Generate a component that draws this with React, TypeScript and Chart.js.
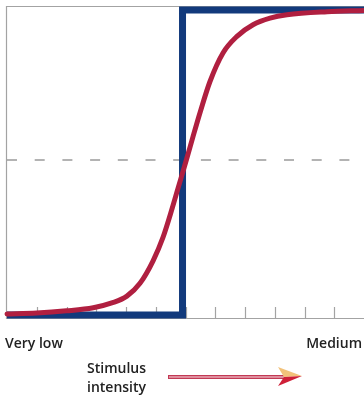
import React, { useEffect, useRef } from "react";
import { Chart, registerables } from "chart.js";

Chart.register(...registerables);

// Stimulus intensity (x, 0..12) vs response (y, 0..100)
const sigmoidX = [0, 1, 2, 2.9, 3.55, 4.03, 4.47, 4.91, 5.24, 5.55, 5.75, 5.93, 6.05, 6.25, 6.49, 6.82, 7.26, 7.73, 8.27, 8.84, 9.41, 10.76, 12];
const sigmoidY = [1.6, 1.9, 2.6, 3.6, 5.2, 7.3, 11.4, 18.6, 26.0, 35.3, 41.8, 47.6, 51.5, 58.2, 66.0, 75.8, 85, 90.3, 94.0, 96.1, 97.2, 98.2, 98.6];
const stepX = [0, 5.9, 5.9, 12];
const stepY = [1.3, 1.3, 98.7, 98.7];
const thresholdX = [0, 12];
const thresholdY = [50.8, 50.8];
const tickValues = [1, 2, 3, 4, 5, 6, 7, 8, 9, 10, 11];
const lowLabel = "Very low";
const highLabel = "Medium";
const axisTitle = ["Stimulus", "intensity"];

const FONT = "600 14px 'Open Sans', sans-serif";

const decorPlugin = {
  id: "decor",
  beforeDatasetsDraw(chart: any) {
    const { ctx, chartArea } = chart;
    const xs = chart.scales.x;
    const { left, top, right, bottom } = chartArea;
    ctx.save();
    ctx.strokeStyle = "#a3a3a3";
    ctx.lineWidth = 1.2;
    ctx.beginPath();
    ctx.moveTo(left - 0.5, bottom);
    ctx.lineTo(left - 0.5, top + 0.5);
    ctx.lineTo(right, top + 0.5);
    ctx.stroke();
    ctx.beginPath();
    ctx.moveTo(left - 1, bottom - 0.5);
    ctx.lineTo(right, bottom - 0.5);
    ctx.stroke();
    ctx.beginPath();
    for (const v of tickValues) {
      const px = Math.round(xs.getPixelForValue(v)) + 0.5;
      ctx.moveTo(px, bottom);
      ctx.lineTo(px, bottom - 12);
    }
    ctx.stroke();
    ctx.restore();
  },
  afterDraw(chart: any) {
    const { ctx, chartArea } = chart;
    const { left, right, bottom } = chartArea;
    ctx.save();
    ctx.fillStyle = "#222222";
    ctx.font = FONT;
    ctx.textBaseline = "alphabetic";
    ctx.textAlign = "left";
    ctx.fillText(lowLabel, left - 2, bottom + 29);
    ctx.textAlign = "right";
    ctx.fillText(highLabel, right - 2, bottom + 29);
    ctx.textAlign = "left";
    ctx.fillText(axisTitle[0], 87, bottom + 54);
    ctx.fillText(axisTitle[1], 87, bottom + 73);

    // arrow
    const y = bottom + 58;
    const x0 = 168;
    const x1 = 284;
    const tip = 302;
    ctx.fillStyle = "#c23a55";
    ctx.fillRect(x0, y - 2, x1 - x0, 4);
    ctx.fillStyle = "#e7a3b0";
    ctx.fillRect(x0 + 1, y - 0.8, x1 - x0 - 1, 1.6);
    ctx.fillStyle = "#f2c27a";
    ctx.beginPath();
    ctx.moveTo(278, y - 10);
    ctx.lineTo(tip, y - 1);
    ctx.lineTo(284, y);
    ctx.closePath();
    ctx.fill();
    ctx.fillStyle = "#cf2038";
    ctx.beginPath();
    ctx.moveTo(278, y + 9);
    ctx.lineTo(tip, y - 1);
    ctx.lineTo(284, y);
    ctx.closePath();
    ctx.fill();
    ctx.restore();
  },
};

export default function App() {
  const ref = useRef<HTMLCanvasElement | null>(null);
  useEffect(() => {
    if (!ref.current) return;
    const toPts = (xs: number[], ys: number[]) => xs.map((x, i) => ({ x, y: ys[i] }));
    const chart = new Chart(ref.current, {
      type: "scatter",
      data: {
        datasets: [
          {
            data: toPts(sigmoidX, sigmoidY),
            showLine: true,
            borderColor: "#b01f40",
            borderWidth: 5,
            pointRadius: 0,
            cubicInterpolationMode: "monotone",
            borderCapStyle: "round",
            clip: false,
            order: 0,
          },
          {
            data: toPts(stepX, stepY),
            showLine: true,
            borderColor: "#123a7c",
            borderWidth: 7,
            pointRadius: 0,
            tension: 0,
            borderJoinStyle: "miter",
            clip: false,
            order: 1,
          },
          {
            data: toPts(thresholdX, thresholdY),
            showLine: true,
            borderColor: "#9a9a9a",
            borderWidth: 1.3,
            borderDash: [10, 17.7],
            pointRadius: 0,
            clip: false,
            order: 2,
          },
        ],
      } as any,
      options: {
        animation: false,
        responsive: false,
        maintainAspectRatio: false,
        layout: { padding: { left: 7, top: 6, right: 0, bottom: 80 } },
        plugins: { legend: { display: false }, tooltip: { enabled: false } },
        scales: {
          x: { type: "linear", min: 0, max: 12, display: false },
          y: { type: "linear", min: 0, max: 100, display: false },
        },
      },
      plugins: [decorPlugin],
    });
    return () => chart.destroy();
  }, []);
  return (
    <div style={{ position: "absolute", left: 0, top: 0, width: 364, height: 399, background: "#fff" }}>
      <canvas ref={ref} width={364} height={399} style={{ width: 364, height: 399, display: "block" }} />
    </div>
  );
}
